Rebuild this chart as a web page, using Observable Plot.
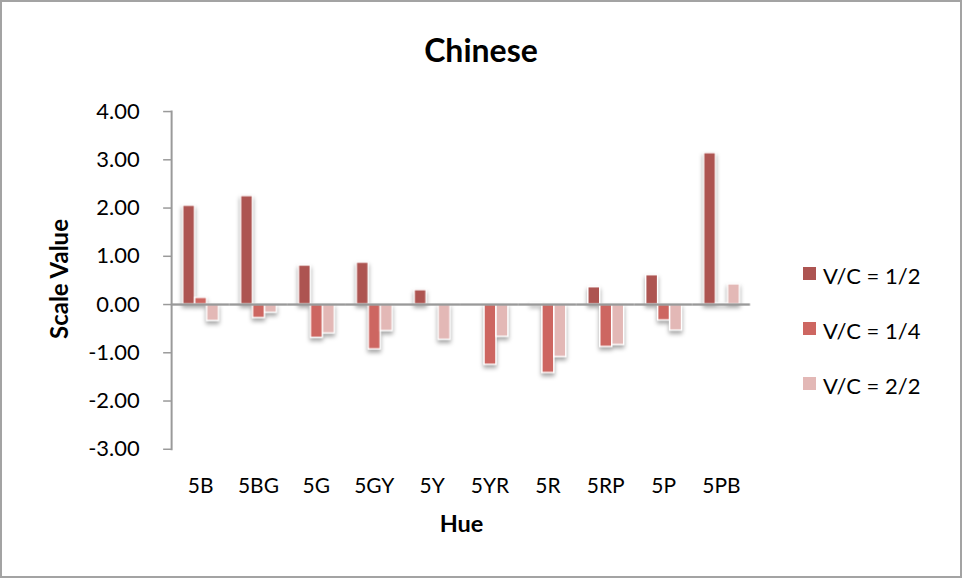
<!DOCTYPE html>
<html>
<head>
<meta charset="utf-8">
<script src="https://cdn.jsdelivr.net/npm/d3@7"></script>
<script src="https://cdn.jsdelivr.net/npm/@observablehq/plot@0.6"></script>
<style>
  html, body { margin: 0; padding: 0; background: #fff; }
  #chart { position: relative; width: 962px; height: 578px; box-sizing: border-box; border: 2px solid #a3a3a3; overflow: hidden; font-family: Lato, "Open Sans", sans-serif; }
  #plot { position: absolute; left: -2px; top: -2px; }
  .title { position: absolute; left: 0; width: 958px; top: 28.4px; text-align: center; font-weight: bold; font-size: 32px; line-height: normal; color: #000; }
  .ylab { position: absolute; left: 56px; top: 277px; transform: translate(-50%, -50%) rotate(-90deg); font-weight: bold; font-size: 24px; white-space: nowrap; }
  .xlab { position: absolute; left: 459.5px; top: 521px; transform: translate(-50%, -50%); font-weight: bold; font-size: 23.5px; }
  .legend { position: absolute; left: 801px; top: 259.6px; font-size: 22px; line-height: normal; }
  .legend div { height: 55px; display: flex; align-items: flex-start; }
  .legend span.sw { display: inline-block; width: 13px; height: 12.5px; margin-right: 7px; margin-top: 5.5px; }
  #plot g[aria-label="bar"] { filter: drop-shadow(0px 3px 2px rgba(0,0,0,0.35)); }
</style>
</head>
<body>
<div id="chart">
  <div id="plot"></div>
  <div class="title">Chinese</div>
  <div class="ylab">Scale Value</div>
  <div class="xlab">Hue</div>
  <div class="legend" id="legend"></div>
</div>
<script>
const hues = ["5B", "5BG", "5G", "5GY", "5Y", "5YR", "5R", "5RP", "5P", "5PB"];
const seriesNames = ["V/C = 1/2", "V/C = 1/4", "V/C = 2/2"];
const seriesColors = ["#ad5451", "#cd6661", "#e3b8b6"];
const vc12 = [2.05, 2.25, 0.81, 0.87, 0.30, 0.00, 0.03, 0.36, 0.61, 3.14];
const vc14 = [0.14, -0.28, -0.69, -0.93, 0.00, -1.25, -1.42, -0.88, -0.33, 0.02];
const vc22 = [-0.34, -0.17, -0.60, -0.55, -0.73, -0.67, -1.09, -0.84, -0.54, 0.42];
const yTicks = [-3, -2, -1, 0, 1, 2, 3, 4];

const seriesValues = [vc12, vc14, vc22];
const data = [];
hues.forEach((h, i) => {
  seriesNames.forEach((s, j) => data.push({hue: h, series: s, value: seriesValues[j][i]}));
});

const W = 962, H = 578;
const mL = 169, mR = 208, mT = 111.3, mB = 128.3;
const step = (W - mL - mR) / hues.length;
const halfGap = step * 0.18;

const chart = Plot.plot({
  width: W,
  height: H,
  marginLeft: mL,
  marginRight: mR,
  marginTop: mT,
  marginBottom: mB,
  style: {fontFamily: "Lato, 'Open Sans', sans-serif", color: "#000", background: "transparent"},
  fx: {domain: hues, paddingInner: 0.36, paddingOuter: 0.18},
  x: {domain: seriesNames, padding: 0, axis: null},
  y: {domain: [-3, 4]},
  color: {domain: seriesNames, range: seriesColors},
  marks: [
    Plot.axisY({ticks: yTicks, tickFormat: d => d.toFixed(2), tickSize: 8, tickPadding: 24, fontSize: 22, stroke: "#9a9a9a", strokeWidth: 1.5, strokeOpacity: 1, dx: -halfGap, label: null}),
    Plot.axisFx({anchor: "bottom", tickSize: 0, tickPadding: 29, fontSize: 21, label: null}),
    Plot.frame({anchor: "left", facetAnchor: "left", stroke: "#9a9a9a", strokeWidth: 2, dx: -halfGap}),
    Plot.barY(data, {fx: "hue", x: "series", y: "value", fill: "series", stroke: "white", strokeWidth: 1.5}),
    Plot.ruleY([0], {stroke: "#999999", strokeWidth: 2.5, insetLeft: -halfGap, insetRight: -halfGap})
  ]
});
document.getElementById("plot").appendChild(chart);

const legend = document.getElementById("legend");
seriesNames.forEach((s, j) => {
  const row = document.createElement("div");
  const sw = document.createElement("span");
  sw.className = "sw";
  sw.style.background = seriesColors[j];
  row.appendChild(sw);
  row.appendChild(document.createTextNode(s));
  legend.appendChild(row);
});
</script>
</body>
</html>
